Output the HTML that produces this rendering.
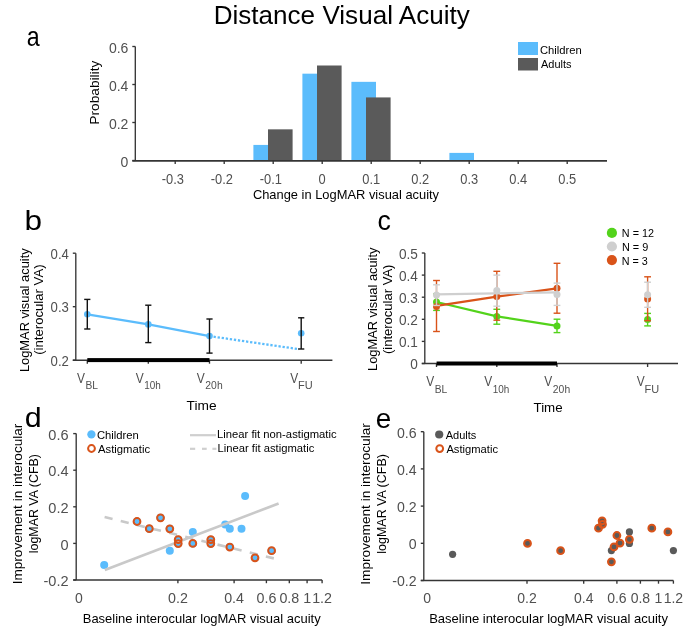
<!DOCTYPE html>
<html><head><meta charset="utf-8"><title>Distance Visual Acuity</title>
<style>html,body{margin:0;padding:0;background:#fff;width:685px;height:635px;overflow:hidden} svg{will-change:transform}</style>
</head><body>
<svg width="685" height="635" viewBox="0 0 685 635" style="display:block">
<g font-family='"Liberation Sans", sans-serif'>
<text x="213.67" y="23.65" font-size="25" textLength="256.12" lengthAdjust="spacingAndGlyphs" fill="#000">Distance Visual Acuity</text>
<text x="26.68" y="46.30" font-size="27.5" textLength="12.91" lengthAdjust="spacingAndGlyphs" fill="#000">a</text>
<text x="24.55" y="229.50" font-size="27.5" textLength="17.53" lengthAdjust="spacingAndGlyphs" fill="#000">b</text>
<text x="377.53" y="230.25" font-size="27.5" textLength="13.37" lengthAdjust="spacingAndGlyphs" fill="#000">c</text>
<text x="24.80" y="426.62" font-size="27.5" textLength="16.91" lengthAdjust="spacingAndGlyphs" fill="#000">d</text>
<text x="375.78" y="427.70" font-size="27.5" textLength="15.48" lengthAdjust="spacingAndGlyphs" fill="#000">e</text>
<rect x="253.40" y="144.92" width="24.6" height="15.88" fill="#5BBCFC"/>
<rect x="302.40" y="73.67" width="24.6" height="87.13" fill="#5BBCFC"/>
<rect x="351.40" y="81.84" width="24.6" height="78.96" fill="#5BBCFC"/>
<rect x="449.40" y="152.90" width="24.6" height="7.90" fill="#5BBCFC"/>
<rect x="268.00" y="129.34" width="24.6" height="31.46" fill="#5A5A5A"/>
<rect x="317.00" y="65.50" width="24.6" height="95.30" fill="#5A5A5A"/>
<rect x="366.00" y="97.42" width="24.6" height="63.38" fill="#5A5A5A"/>
<line x1="135.30" y1="46.50" x2="135.30" y2="160.50" stroke="#353535" stroke-width="1.35"/>
<line x1="132.30" y1="160.85" x2="607.00" y2="160.85" stroke="#353535" stroke-width="1.6"/>
<line x1="175.20" y1="160.80" x2="175.20" y2="163.90" stroke="#353535" stroke-width="1.35"/>
<line x1="224.20" y1="160.80" x2="224.20" y2="163.90" stroke="#353535" stroke-width="1.35"/>
<line x1="273.20" y1="160.80" x2="273.20" y2="163.90" stroke="#353535" stroke-width="1.35"/>
<line x1="322.20" y1="160.80" x2="322.20" y2="163.90" stroke="#353535" stroke-width="1.35"/>
<line x1="371.20" y1="160.80" x2="371.20" y2="163.90" stroke="#353535" stroke-width="1.35"/>
<line x1="420.20" y1="160.80" x2="420.20" y2="163.90" stroke="#353535" stroke-width="1.35"/>
<line x1="469.20" y1="160.80" x2="469.20" y2="163.90" stroke="#353535" stroke-width="1.35"/>
<line x1="518.20" y1="160.80" x2="518.20" y2="163.90" stroke="#353535" stroke-width="1.35"/>
<line x1="567.20" y1="160.80" x2="567.20" y2="163.90" stroke="#353535" stroke-width="1.35"/>
<text transform="translate(128.40 166.70) scale(1.0 1)" font-size="14" text-anchor="end" fill="#505050">0</text>
<line x1="132.30" y1="160.50" x2="135.30" y2="160.50" stroke="#353535" stroke-width="1.35"/>
<text transform="translate(128.40 128.70) scale(1.0 1)" font-size="14" text-anchor="end" fill="#505050">0.2</text>
<line x1="132.30" y1="122.50" x2="135.30" y2="122.50" stroke="#353535" stroke-width="1.35"/>
<text transform="translate(128.40 90.70) scale(1.0 1)" font-size="14" text-anchor="end" fill="#505050">0.4</text>
<line x1="132.30" y1="84.50" x2="135.30" y2="84.50" stroke="#353535" stroke-width="1.35"/>
<text transform="translate(128.40 52.70) scale(1.0 1)" font-size="14" text-anchor="end" fill="#505050">0.6</text>
<line x1="132.30" y1="46.50" x2="135.30" y2="46.50" stroke="#353535" stroke-width="1.35"/>
<text transform="translate(172.80 183.60) scale(0.92 1)" font-size="14" text-anchor="middle" fill="#505050">-0.3</text>
<text transform="translate(221.80 183.60) scale(0.92 1)" font-size="14" text-anchor="middle" fill="#505050">-0.2</text>
<text transform="translate(270.80 183.60) scale(0.92 1)" font-size="14" text-anchor="middle" fill="#505050">-0.1</text>
<text transform="translate(322.20 183.60) scale(0.92 1)" font-size="14" text-anchor="middle" fill="#505050">0</text>
<text transform="translate(371.20 183.60) scale(0.92 1)" font-size="14" text-anchor="middle" fill="#505050">0.1</text>
<text transform="translate(420.20 183.60) scale(0.92 1)" font-size="14" text-anchor="middle" fill="#505050">0.2</text>
<text transform="translate(469.20 183.60) scale(0.92 1)" font-size="14" text-anchor="middle" fill="#505050">0.3</text>
<text transform="translate(518.20 183.60) scale(0.92 1)" font-size="14" text-anchor="middle" fill="#505050">0.4</text>
<text transform="translate(567.20 183.60) scale(0.92 1)" font-size="14" text-anchor="middle" fill="#505050">0.5</text>
<text x="252.88" y="198.90" font-size="13.3" textLength="186.18" lengthAdjust="spacingAndGlyphs" fill="#000">Change in LogMAR visual acuity</text>
<text x="99.15" y="124.68" font-size="13.3" textLength="64.01" lengthAdjust="spacingAndGlyphs" transform="rotate(-90 99.15 124.68)" fill="#000">Probability</text>
<rect x="518" y="42" width="20" height="13" fill="#5BBCFC"/>
<rect x="518" y="58" width="20" height="12.5" fill="#5A5A5A"/>
<text x="539.90" y="53.50" font-size="10.9" textLength="41.88" lengthAdjust="spacingAndGlyphs" fill="#000">Children</text>
<text x="541.02" y="68.35" font-size="10.9" textLength="30.56" lengthAdjust="spacingAndGlyphs" fill="#000">Adults</text>
<line x1="75.80" y1="253.20" x2="75.80" y2="360.20" stroke="#353535" stroke-width="1.35"/>
<line x1="72.80" y1="360.20" x2="332.40" y2="360.20" stroke="#353535" stroke-width="1.35"/>
<line x1="87.30" y1="360.20" x2="87.30" y2="363.70" stroke="#353535" stroke-width="1.35"/>
<line x1="148.30" y1="360.20" x2="148.30" y2="363.70" stroke="#353535" stroke-width="1.35"/>
<line x1="209.50" y1="360.20" x2="209.50" y2="363.70" stroke="#353535" stroke-width="1.35"/>
<line x1="301.20" y1="360.20" x2="301.20" y2="363.70" stroke="#353535" stroke-width="1.35"/>
<rect x="87.3" y="358.1" width="122.2" height="4" fill="#000"/>
<text transform="translate(68.90 365.90) scale(0.94 1)" font-size="14" text-anchor="end" fill="#505050">0.2</text>
<line x1="72.80" y1="360.20" x2="75.80" y2="360.20" stroke="#353535" stroke-width="1.35"/>
<text transform="translate(68.90 312.40) scale(0.94 1)" font-size="14" text-anchor="end" fill="#505050">0.3</text>
<line x1="72.80" y1="306.70" x2="75.80" y2="306.70" stroke="#353535" stroke-width="1.35"/>
<text transform="translate(68.90 258.90) scale(0.94 1)" font-size="14" text-anchor="end" fill="#505050">0.4</text>
<line x1="72.80" y1="253.20" x2="75.80" y2="253.20" stroke="#353535" stroke-width="1.35"/>
<polyline points="87.3,314.3 148.3,324.4 209.5,336.1" fill="none" stroke="#5BBCFC" stroke-width="2.2"/>
<line x1="209.5" y1="336.1" x2="299" y2="349.2" stroke="#5BBCFC" stroke-width="2.3" stroke-dasharray="2.3 1.8"/>
<circle cx="87.3" cy="314.3" r="3.3" fill="#5BBCFC"/>
<circle cx="148.3" cy="324.4" r="3.3" fill="#5BBCFC"/>
<circle cx="209.5" cy="336.1" r="3.3" fill="#5BBCFC"/>
<circle cx="301.2" cy="333.3" r="3.3" fill="#5BBCFC"/>
<line x1="87.30" y1="299.40" x2="87.30" y2="329.00" stroke="#111" stroke-width="1.4"/>
<line x1="84.20" y1="299.40" x2="90.40" y2="299.40" stroke="#111" stroke-width="1.4"/>
<line x1="84.20" y1="329.00" x2="90.40" y2="329.00" stroke="#111" stroke-width="1.4"/>
<line x1="148.30" y1="305.20" x2="148.30" y2="342.60" stroke="#111" stroke-width="1.4"/>
<line x1="145.20" y1="305.20" x2="151.40" y2="305.20" stroke="#111" stroke-width="1.4"/>
<line x1="145.20" y1="342.60" x2="151.40" y2="342.60" stroke="#111" stroke-width="1.4"/>
<line x1="209.50" y1="319.00" x2="209.50" y2="353.10" stroke="#111" stroke-width="1.4"/>
<line x1="206.40" y1="319.00" x2="212.60" y2="319.00" stroke="#111" stroke-width="1.4"/>
<line x1="206.40" y1="353.10" x2="212.60" y2="353.10" stroke="#111" stroke-width="1.4"/>
<line x1="301.20" y1="317.80" x2="301.20" y2="349.00" stroke="#111" stroke-width="1.4"/>
<line x1="298.10" y1="317.80" x2="304.30" y2="317.80" stroke="#111" stroke-width="1.4"/>
<line x1="298.10" y1="349.00" x2="304.30" y2="349.00" stroke="#111" stroke-width="1.4"/>
<text x="77.10" y="382.57" font-size="14.6" textLength="7.97" lengthAdjust="spacingAndGlyphs" fill="#505050">V</text>
<text x="85.43" y="388.85" font-size="11.3" textLength="12.56" lengthAdjust="spacingAndGlyphs" fill="#505050">BL</text>
<text x="135.65" y="382.57" font-size="14.6" textLength="7.97" lengthAdjust="spacingAndGlyphs" fill="#505050">V</text>
<text x="144.18" y="388.85" font-size="11.3" textLength="16.60" lengthAdjust="spacingAndGlyphs" fill="#505050">10h</text>
<text x="196.85" y="382.57" font-size="14.6" textLength="7.97" lengthAdjust="spacingAndGlyphs" fill="#505050">V</text>
<text x="205.37" y="388.85" font-size="11.3" textLength="17.29" lengthAdjust="spacingAndGlyphs" fill="#505050">20h</text>
<text x="290.35" y="382.57" font-size="14.6" textLength="7.97" lengthAdjust="spacingAndGlyphs" fill="#505050">V</text>
<text x="298.12" y="388.85" font-size="11.3" textLength="14.66" lengthAdjust="spacingAndGlyphs" fill="#505050">FU</text>
<text x="28.80" y="372.10" font-size="13.3" textLength="123.78" lengthAdjust="spacingAndGlyphs" transform="rotate(-90 28.80 372.10)" fill="#000">LogMAR visual acuity</text>
<text x="43.30" y="354.82" font-size="13.3" textLength="90.36" lengthAdjust="spacingAndGlyphs" transform="rotate(-90 43.30 354.82)" fill="#000">(interocular VA)</text>
<text x="186.60" y="410.48" font-size="13.3" textLength="30.00" lengthAdjust="spacingAndGlyphs" fill="#000">Time</text>
<line x1="424.80" y1="253.00" x2="424.80" y2="363.50" stroke="#353535" stroke-width="1.35"/>
<line x1="421.80" y1="363.50" x2="678.00" y2="363.50" stroke="#353535" stroke-width="1.35"/>
<line x1="436.50" y1="363.50" x2="436.50" y2="367.00" stroke="#353535" stroke-width="1.35"/>
<line x1="496.80" y1="363.50" x2="496.80" y2="367.00" stroke="#353535" stroke-width="1.35"/>
<line x1="557.00" y1="363.50" x2="557.00" y2="367.00" stroke="#353535" stroke-width="1.35"/>
<line x1="647.60" y1="363.50" x2="647.60" y2="367.00" stroke="#353535" stroke-width="1.35"/>
<rect x="436.6" y="361.5" width="120.4" height="4" fill="#000"/>
<text transform="translate(417.95 369.10) scale(0.975 1)" font-size="14" text-anchor="end" fill="#505050">0</text>
<line x1="421.80" y1="363.50" x2="424.80" y2="363.50" stroke="#353535" stroke-width="1.35"/>
<text transform="translate(417.95 347.00) scale(0.975 1)" font-size="14" text-anchor="end" fill="#505050">0.1</text>
<line x1="421.80" y1="341.40" x2="424.80" y2="341.40" stroke="#353535" stroke-width="1.35"/>
<text transform="translate(417.95 324.90) scale(0.975 1)" font-size="14" text-anchor="end" fill="#505050">0.2</text>
<line x1="421.80" y1="319.30" x2="424.80" y2="319.30" stroke="#353535" stroke-width="1.35"/>
<text transform="translate(417.95 302.80) scale(0.975 1)" font-size="14" text-anchor="end" fill="#505050">0.3</text>
<line x1="421.80" y1="297.20" x2="424.80" y2="297.20" stroke="#353535" stroke-width="1.35"/>
<text transform="translate(417.95 280.70) scale(0.975 1)" font-size="14" text-anchor="end" fill="#505050">0.4</text>
<line x1="421.80" y1="275.10" x2="424.80" y2="275.10" stroke="#353535" stroke-width="1.35"/>
<text transform="translate(417.95 258.60) scale(0.975 1)" font-size="14" text-anchor="end" fill="#505050">0.5</text>
<line x1="421.80" y1="253.00" x2="424.80" y2="253.00" stroke="#353535" stroke-width="1.35"/>
<text x="426.30" y="386.27" font-size="14.6" textLength="7.97" lengthAdjust="spacingAndGlyphs" fill="#505050">V</text>
<text x="434.63" y="392.55" font-size="11.3" textLength="12.56" lengthAdjust="spacingAndGlyphs" fill="#505050">BL</text>
<text x="484.15" y="386.27" font-size="14.6" textLength="7.97" lengthAdjust="spacingAndGlyphs" fill="#505050">V</text>
<text x="492.68" y="392.55" font-size="11.3" textLength="16.60" lengthAdjust="spacingAndGlyphs" fill="#505050">10h</text>
<text x="544.35" y="386.27" font-size="14.6" textLength="7.97" lengthAdjust="spacingAndGlyphs" fill="#505050">V</text>
<text x="552.87" y="392.55" font-size="11.3" textLength="17.29" lengthAdjust="spacingAndGlyphs" fill="#505050">20h</text>
<text x="636.75" y="386.27" font-size="14.6" textLength="7.97" lengthAdjust="spacingAndGlyphs" fill="#505050">V</text>
<text x="644.52" y="392.55" font-size="11.3" textLength="14.66" lengthAdjust="spacingAndGlyphs" fill="#505050">FU</text>
<text x="377.30" y="370.92" font-size="13.3" textLength="123.32" lengthAdjust="spacingAndGlyphs" transform="rotate(-90 377.30 370.92)" fill="#000">LogMAR visual acuity</text>
<text x="391.90" y="354.08" font-size="13.3" textLength="89.55" lengthAdjust="spacingAndGlyphs" transform="rotate(-90 391.90 354.08)" fill="#000">(interocular VA)</text>
<text x="533.50" y="411.78" font-size="13.3" textLength="29.12" lengthAdjust="spacingAndGlyphs" fill="#000">Time</text>
<polyline points="436.5,302.0 496.8,316.4 557.0,325.9" fill="none" stroke="#53D31B" stroke-width="2.2"/>
<line x1="436.50" y1="294.00" x2="436.50" y2="310.40" stroke="#53D31B" stroke-width="1.4"/>
<line x1="433.10" y1="294.00" x2="439.90" y2="294.00" stroke="#53D31B" stroke-width="1.4"/>
<line x1="433.10" y1="310.40" x2="439.90" y2="310.40" stroke="#53D31B" stroke-width="1.4"/>
<line x1="496.80" y1="309.30" x2="496.80" y2="324.20" stroke="#53D31B" stroke-width="1.4"/>
<line x1="493.40" y1="309.30" x2="500.20" y2="309.30" stroke="#53D31B" stroke-width="1.4"/>
<line x1="493.40" y1="324.20" x2="500.20" y2="324.20" stroke="#53D31B" stroke-width="1.4"/>
<line x1="557.00" y1="319.20" x2="557.00" y2="332.60" stroke="#53D31B" stroke-width="1.4"/>
<line x1="553.60" y1="319.20" x2="560.40" y2="319.20" stroke="#53D31B" stroke-width="1.4"/>
<line x1="553.60" y1="332.60" x2="560.40" y2="332.60" stroke="#53D31B" stroke-width="1.4"/>
<line x1="647.60" y1="313.40" x2="647.60" y2="325.90" stroke="#53D31B" stroke-width="1.4"/>
<line x1="644.20" y1="313.40" x2="651.00" y2="313.40" stroke="#53D31B" stroke-width="1.4"/>
<line x1="644.20" y1="325.90" x2="651.00" y2="325.90" stroke="#53D31B" stroke-width="1.4"/>
<circle cx="436.5" cy="302.0" r="3.5" fill="#53D31B"/>
<circle cx="496.8" cy="316.4" r="3.5" fill="#53D31B"/>
<circle cx="557.0" cy="325.9" r="3.5" fill="#53D31B"/>
<circle cx="647.6" cy="319.4" r="3.5" fill="#53D31B"/>
<polyline points="436.5,305.8 496.8,296.6 557.0,288.4" fill="none" stroke="#D95319" stroke-width="2.2"/>
<line x1="436.50" y1="280.50" x2="436.50" y2="331.50" stroke="#D95319" stroke-width="1.4"/>
<line x1="433.10" y1="280.50" x2="439.90" y2="280.50" stroke="#D95319" stroke-width="1.4"/>
<line x1="433.10" y1="331.50" x2="439.90" y2="331.50" stroke="#D95319" stroke-width="1.4"/>
<line x1="496.80" y1="271.30" x2="496.80" y2="320.20" stroke="#D95319" stroke-width="1.4"/>
<line x1="493.40" y1="271.30" x2="500.20" y2="271.30" stroke="#D95319" stroke-width="1.4"/>
<line x1="493.40" y1="320.20" x2="500.20" y2="320.20" stroke="#D95319" stroke-width="1.4"/>
<line x1="557.00" y1="263.30" x2="557.00" y2="313.20" stroke="#D95319" stroke-width="1.4"/>
<line x1="553.60" y1="263.30" x2="560.40" y2="263.30" stroke="#D95319" stroke-width="1.4"/>
<line x1="553.60" y1="313.20" x2="560.40" y2="313.20" stroke="#D95319" stroke-width="1.4"/>
<line x1="647.60" y1="276.80" x2="647.60" y2="320.70" stroke="#D95319" stroke-width="1.4"/>
<line x1="644.20" y1="276.80" x2="651.00" y2="276.80" stroke="#D95319" stroke-width="1.4"/>
<line x1="644.20" y1="320.70" x2="651.00" y2="320.70" stroke="#D95319" stroke-width="1.4"/>
<circle cx="436.5" cy="306.4" r="3.5" fill="#D95319"/>
<circle cx="496.8" cy="296.6" r="3.5" fill="#D95319"/>
<circle cx="557.0" cy="288.2" r="3.5" fill="#D95319"/>
<circle cx="647.6" cy="299.0" r="3.5" fill="#D95319"/>
<polyline points="436.5,294.4 557.0,292.4" fill="none" stroke="#CFCFCF" stroke-width="2.2"/>
<line x1="436.50" y1="284.80" x2="436.50" y2="305.50" stroke="#CFCFCF" stroke-width="1.4"/>
<line x1="433.10" y1="284.80" x2="439.90" y2="284.80" stroke="#CFCFCF" stroke-width="1.4"/>
<line x1="433.10" y1="305.50" x2="439.90" y2="305.50" stroke="#CFCFCF" stroke-width="1.4"/>
<line x1="496.80" y1="275.10" x2="496.80" y2="306.20" stroke="#CFCFCF" stroke-width="1.4"/>
<line x1="493.40" y1="275.10" x2="500.20" y2="275.10" stroke="#CFCFCF" stroke-width="1.4"/>
<line x1="493.40" y1="306.20" x2="500.20" y2="306.20" stroke="#CFCFCF" stroke-width="1.4"/>
<line x1="557.00" y1="283.10" x2="557.00" y2="305.40" stroke="#CFCFCF" stroke-width="1.4"/>
<line x1="553.60" y1="283.10" x2="560.40" y2="283.10" stroke="#CFCFCF" stroke-width="1.4"/>
<line x1="553.60" y1="305.40" x2="560.40" y2="305.40" stroke="#CFCFCF" stroke-width="1.4"/>
<line x1="647.60" y1="282.20" x2="647.60" y2="307.30" stroke="#CFCFCF" stroke-width="1.4"/>
<line x1="644.20" y1="282.20" x2="651.00" y2="282.20" stroke="#CFCFCF" stroke-width="1.4"/>
<line x1="644.20" y1="307.30" x2="651.00" y2="307.30" stroke="#CFCFCF" stroke-width="1.4"/>
<circle cx="436.5" cy="295.0" r="3.5" fill="#CFCFCF"/>
<circle cx="496.8" cy="290.4" r="3.5" fill="#CFCFCF"/>
<circle cx="557.0" cy="294.4" r="3.5" fill="#CFCFCF"/>
<circle cx="647.6" cy="294.7" r="3.5" fill="#CFCFCF"/>
<circle cx="611.9" cy="232.9" r="5.1" fill="#53D31B"/>
<circle cx="611.9" cy="246.5" r="5.1" fill="#CFCFCF"/>
<circle cx="611.9" cy="260.1" r="5.1" fill="#D95319"/>
<text x="621.85" y="236.98" font-size="10.9" textLength="32.10" lengthAdjust="spacingAndGlyphs" fill="#000">N = 12</text>
<text x="621.92" y="250.77" font-size="10.9" textLength="26.28" lengthAdjust="spacingAndGlyphs" fill="#000">N = 9</text>
<text x="621.82" y="264.62" font-size="10.9" textLength="26.06" lengthAdjust="spacingAndGlyphs" fill="#000">N = 3</text>
<line x1="76.20" y1="433.60" x2="76.20" y2="580.00" stroke="#353535" stroke-width="1.35"/>
<line x1="73.20" y1="580.00" x2="322.10" y2="580.00" stroke="#353535" stroke-width="1.35"/>
<line x1="177.90" y1="580.00" x2="177.90" y2="583.20" stroke="#353535" stroke-width="1.35"/>
<line x1="234.10" y1="580.00" x2="234.10" y2="583.20" stroke="#353535" stroke-width="1.35"/>
<line x1="266.40" y1="580.00" x2="266.40" y2="583.20" stroke="#353535" stroke-width="1.35"/>
<line x1="289.30" y1="580.00" x2="289.30" y2="583.20" stroke="#353535" stroke-width="1.35"/>
<line x1="307.10" y1="580.00" x2="307.10" y2="583.20" stroke="#353535" stroke-width="1.35"/>
<line x1="322.10" y1="580.00" x2="322.10" y2="583.20" stroke="#353535" stroke-width="1.35"/>
<text transform="translate(68.60 586.10) scale(1.04 1)" font-size="14" text-anchor="end" fill="#505050">-0.2</text>
<line x1="73.20" y1="580.00" x2="76.20" y2="580.00" stroke="#353535" stroke-width="1.35"/>
<text transform="translate(68.60 549.50) scale(1.04 1)" font-size="14" text-anchor="end" fill="#505050">0</text>
<line x1="73.20" y1="543.40" x2="76.20" y2="543.40" stroke="#353535" stroke-width="1.35"/>
<text transform="translate(68.60 512.90) scale(1.04 1)" font-size="14" text-anchor="end" fill="#505050">0.2</text>
<line x1="73.20" y1="506.80" x2="76.20" y2="506.80" stroke="#353535" stroke-width="1.35"/>
<text transform="translate(68.60 476.30) scale(1.04 1)" font-size="14" text-anchor="end" fill="#505050">0.4</text>
<line x1="73.20" y1="470.20" x2="76.20" y2="470.20" stroke="#353535" stroke-width="1.35"/>
<text transform="translate(68.60 439.70) scale(1.04 1)" font-size="14" text-anchor="end" fill="#505050">0.6</text>
<line x1="73.20" y1="433.60" x2="76.20" y2="433.60" stroke="#353535" stroke-width="1.35"/>
<text x="78.85" y="603.10" font-size="14" text-anchor="middle" fill="#505050">0</text>
<text transform="translate(177.90 603.10) scale(1.02 1)" font-size="14" text-anchor="middle" fill="#505050">0.2</text>
<text transform="translate(234.10 603.10) scale(1.02 1)" font-size="14" text-anchor="middle" fill="#505050">0.4</text>
<text transform="translate(266.40 603.10) scale(1.02 1)" font-size="14" text-anchor="middle" fill="#505050">0.6</text>
<text transform="translate(289.30 603.10) scale(1.02 1)" font-size="14" text-anchor="middle" fill="#505050">0.8</text>
<text transform="translate(307.10 603.10) scale(1.02 1)" font-size="14" text-anchor="middle" fill="#505050">1</text>
<text transform="translate(322.10 603.10) scale(1.02 1)" font-size="14" text-anchor="middle" fill="#505050">1.2</text>
<text x="22.25" y="584.25" font-size="13.3" textLength="160.54" lengthAdjust="spacingAndGlyphs" transform="rotate(-90 22.25 584.25)" fill="#000">Improvement in interocular</text>
<text x="37.90" y="553.25" font-size="13.3" textLength="99.16" lengthAdjust="spacingAndGlyphs" transform="rotate(-90 37.90 553.25)" fill="#000">logMAR VA (CFB)</text>
<text x="82.75" y="622.90" font-size="13.3" textLength="237.88" lengthAdjust="spacingAndGlyphs" fill="#000">Baseline interocular logMAR visual acuity</text>
<circle cx="104.2" cy="565.1" r="4.0" fill="#5BBCFC"/>
<circle cx="169.8" cy="550.7" r="4.0" fill="#5BBCFC"/>
<circle cx="192.8" cy="532.1" r="4.0" fill="#5BBCFC"/>
<circle cx="225.2" cy="524.5" r="4.0" fill="#5BBCFC"/>
<circle cx="229.8" cy="528.8" r="4.0" fill="#5BBCFC"/>
<circle cx="241.5" cy="528.8" r="4.0" fill="#5BBCFC"/>
<circle cx="245.1" cy="496.0" r="4.0" fill="#5BBCFC"/>
<circle cx="137.0" cy="521.5" r="4.0" fill="#5BBCFC"/>
<circle cx="149.3" cy="528.7" r="4.0" fill="#5BBCFC"/>
<circle cx="160.5" cy="517.8" r="4.0" fill="#5BBCFC"/>
<circle cx="169.8" cy="528.8" r="4.0" fill="#5BBCFC"/>
<circle cx="178.2" cy="539.7" r="4.0" fill="#5BBCFC"/>
<circle cx="178.2" cy="543.6" r="4.0" fill="#5BBCFC"/>
<circle cx="192.8" cy="543.4" r="4.0" fill="#5BBCFC"/>
<circle cx="210.8" cy="539.7" r="4.0" fill="#5BBCFC"/>
<circle cx="210.8" cy="543.6" r="4.0" fill="#5BBCFC"/>
<circle cx="229.8" cy="547.1" r="4.0" fill="#5BBCFC"/>
<circle cx="255.0" cy="557.8" r="4.0" fill="#5BBCFC"/>
<circle cx="271.6" cy="550.7" r="4.0" fill="#5BBCFC"/>
<line x1="104.8" y1="570.0" x2="278.6" y2="503.5" stroke="#C9C9C9" stroke-width="2.7"/>
<line x1="104.6" y1="517.1" x2="276.0" y2="558.9" stroke="#C9C9C9" stroke-width="2.6" stroke-dasharray="8.2 8.4"/>
<circle cx="137.0" cy="521.5" r="3.4" fill="none" stroke="#D95319" stroke-width="2.0"/>
<circle cx="149.3" cy="528.7" r="3.4" fill="none" stroke="#D95319" stroke-width="2.0"/>
<circle cx="160.5" cy="517.8" r="3.4" fill="none" stroke="#D95319" stroke-width="2.0"/>
<circle cx="169.8" cy="528.8" r="3.4" fill="none" stroke="#D95319" stroke-width="2.0"/>
<circle cx="178.2" cy="539.7" r="3.4" fill="none" stroke="#D95319" stroke-width="2.0"/>
<circle cx="178.2" cy="543.6" r="3.4" fill="none" stroke="#D95319" stroke-width="2.0"/>
<circle cx="192.8" cy="543.4" r="3.4" fill="none" stroke="#D95319" stroke-width="2.0"/>
<circle cx="210.8" cy="539.7" r="3.4" fill="none" stroke="#D95319" stroke-width="2.0"/>
<circle cx="210.8" cy="543.6" r="3.4" fill="none" stroke="#D95319" stroke-width="2.0"/>
<circle cx="229.8" cy="547.1" r="3.4" fill="none" stroke="#D95319" stroke-width="2.0"/>
<circle cx="255.0" cy="557.8" r="3.4" fill="none" stroke="#D95319" stroke-width="2.0"/>
<circle cx="271.6" cy="550.7" r="3.4" fill="none" stroke="#D95319" stroke-width="2.0"/>
<circle cx="91.4" cy="434.4" r="4.15" fill="#5BBCFC"/>
<circle cx="91.5" cy="448.5" r="3.4" fill="none" stroke="#D95319" stroke-width="2.0"/>
<text x="96.90" y="438.65" font-size="10.9" textLength="41.88" lengthAdjust="spacingAndGlyphs" fill="#000">Children</text>
<text x="97.97" y="452.73" font-size="10.9" textLength="52.17" lengthAdjust="spacingAndGlyphs" fill="#000">Astigmatic</text>
<text x="217.05" y="438.42" font-size="10.9" textLength="119.50" lengthAdjust="spacingAndGlyphs" fill="#000">Linear fit non-astigmatic</text>
<text x="217.50" y="452.42" font-size="10.9" textLength="96.81" lengthAdjust="spacingAndGlyphs" fill="#000">Linear fit astigmatic</text>
<line x1="190.00" y1="435.20" x2="216.00" y2="435.20" stroke="#CFCFCF" stroke-width="2.2"/>
<line x1="190.00" y1="448.80" x2="195.20" y2="448.80" stroke="#CFCFCF" stroke-width="2.2"/>
<line x1="202.00" y1="448.80" x2="206.70" y2="448.80" stroke="#CFCFCF" stroke-width="2.2"/>
<line x1="212.40" y1="448.80" x2="216.40" y2="448.80" stroke="#CFCFCF" stroke-width="2.2"/>
<line x1="423.80" y1="431.70" x2="423.80" y2="580.50" stroke="#353535" stroke-width="1.35"/>
<line x1="420.80" y1="580.50" x2="673.40" y2="580.50" stroke="#353535" stroke-width="1.35"/>
<line x1="527.00" y1="580.50" x2="527.00" y2="583.70" stroke="#353535" stroke-width="1.35"/>
<line x1="583.70" y1="580.50" x2="583.70" y2="583.70" stroke="#353535" stroke-width="1.35"/>
<line x1="616.90" y1="580.50" x2="616.90" y2="583.70" stroke="#353535" stroke-width="1.35"/>
<line x1="640.40" y1="580.50" x2="640.40" y2="583.70" stroke="#353535" stroke-width="1.35"/>
<line x1="658.50" y1="580.50" x2="658.50" y2="583.70" stroke="#353535" stroke-width="1.35"/>
<line x1="673.40" y1="580.50" x2="673.40" y2="583.70" stroke="#353535" stroke-width="1.35"/>
<text transform="translate(416.60 586.30) scale(1.01 1)" font-size="14" text-anchor="end" fill="#505050">-0.2</text>
<line x1="420.80" y1="580.50" x2="423.80" y2="580.50" stroke="#353535" stroke-width="1.35"/>
<text transform="translate(416.60 549.10) scale(1.01 1)" font-size="14" text-anchor="end" fill="#505050">0</text>
<line x1="420.80" y1="543.30" x2="423.80" y2="543.30" stroke="#353535" stroke-width="1.35"/>
<text transform="translate(416.60 511.90) scale(1.01 1)" font-size="14" text-anchor="end" fill="#505050">0.2</text>
<line x1="420.80" y1="506.10" x2="423.80" y2="506.10" stroke="#353535" stroke-width="1.35"/>
<text transform="translate(416.60 474.70) scale(1.01 1)" font-size="14" text-anchor="end" fill="#505050">0.4</text>
<line x1="420.80" y1="468.90" x2="423.80" y2="468.90" stroke="#353535" stroke-width="1.35"/>
<text transform="translate(416.60 437.50) scale(1.01 1)" font-size="14" text-anchor="end" fill="#505050">0.6</text>
<line x1="420.80" y1="431.70" x2="423.80" y2="431.70" stroke="#353535" stroke-width="1.35"/>
<text x="427.2" y="603.20" font-size="14" text-anchor="middle" fill="#505050">0</text>
<text transform="translate(527.00 603.20) scale(1.0 1)" font-size="14" text-anchor="middle" fill="#505050">0.2</text>
<text transform="translate(583.70 603.20) scale(1.0 1)" font-size="14" text-anchor="middle" fill="#505050">0.4</text>
<text transform="translate(616.90 603.20) scale(1.0 1)" font-size="14" text-anchor="middle" fill="#505050">0.6</text>
<text transform="translate(640.40 603.20) scale(1.0 1)" font-size="14" text-anchor="middle" fill="#505050">0.8</text>
<text transform="translate(658.50 603.20) scale(1.0 1)" font-size="14" text-anchor="middle" fill="#505050">1</text>
<text transform="translate(673.40 603.20) scale(1.0 1)" font-size="14" text-anchor="middle" fill="#505050">1.2</text>
<text x="370.25" y="584.75" font-size="13.3" textLength="161.55" lengthAdjust="spacingAndGlyphs" transform="rotate(-90 370.25 584.75)" fill="#000">Improvement in interocular</text>
<text x="385.90" y="553.75" font-size="13.3" textLength="99.67" lengthAdjust="spacingAndGlyphs" transform="rotate(-90 385.90 553.75)" fill="#000">logMAR VA (CFB)</text>
<text x="429.20" y="622.90" font-size="13.3" textLength="238.78" lengthAdjust="spacingAndGlyphs" fill="#000">Baseline interocular logMAR visual acuity</text>
<circle cx="452.6" cy="554.3" r="3.6" fill="#5A5A5A"/>
<circle cx="629.4" cy="531.9" r="3.6" fill="#5A5A5A"/>
<circle cx="629.4" cy="543.4" r="3.6" fill="#5A5A5A"/>
<circle cx="611.4" cy="550.6" r="3.6" fill="#5A5A5A"/>
<circle cx="673.4" cy="550.6" r="3.6" fill="#5A5A5A"/>
<circle cx="527.5" cy="543.4" r="3.6" fill="#5A5A5A"/>
<circle cx="560.6" cy="550.7" r="3.6" fill="#5A5A5A"/>
<circle cx="602.1" cy="520.8" r="3.6" fill="#5A5A5A"/>
<circle cx="602.5" cy="524.3" r="3.6" fill="#5A5A5A"/>
<circle cx="598.5" cy="528.2" r="3.6" fill="#5A5A5A"/>
<circle cx="616.9" cy="535.5" r="3.6" fill="#5A5A5A"/>
<circle cx="620.0" cy="543.1" r="3.6" fill="#5A5A5A"/>
<circle cx="614.0" cy="546.9" r="3.6" fill="#5A5A5A"/>
<circle cx="611.4" cy="561.8" r="3.6" fill="#5A5A5A"/>
<circle cx="629.4" cy="539.4" r="3.6" fill="#5A5A5A"/>
<circle cx="651.8" cy="528.2" r="3.6" fill="#5A5A5A"/>
<circle cx="667.9" cy="531.9" r="3.6" fill="#5A5A5A"/>
<circle cx="527.5" cy="543.4" r="3.4" fill="none" stroke="#D95319" stroke-width="2.0"/>
<circle cx="560.6" cy="550.7" r="3.4" fill="none" stroke="#D95319" stroke-width="2.0"/>
<circle cx="602.1" cy="520.8" r="3.4" fill="none" stroke="#D95319" stroke-width="2.0"/>
<circle cx="602.5" cy="524.3" r="3.4" fill="none" stroke="#D95319" stroke-width="2.0"/>
<circle cx="598.5" cy="528.2" r="3.4" fill="none" stroke="#D95319" stroke-width="2.0"/>
<circle cx="616.9" cy="535.5" r="3.4" fill="none" stroke="#D95319" stroke-width="2.0"/>
<circle cx="620.0" cy="543.1" r="3.4" fill="none" stroke="#D95319" stroke-width="2.0"/>
<circle cx="614.0" cy="546.9" r="3.4" fill="none" stroke="#D95319" stroke-width="2.0"/>
<circle cx="611.4" cy="561.8" r="3.4" fill="none" stroke="#D95319" stroke-width="2.0"/>
<circle cx="629.4" cy="539.4" r="3.4" fill="none" stroke="#D95319" stroke-width="2.0"/>
<circle cx="651.8" cy="528.2" r="3.4" fill="none" stroke="#D95319" stroke-width="2.0"/>
<circle cx="667.9" cy="531.9" r="3.4" fill="none" stroke="#D95319" stroke-width="2.0"/>
<circle cx="439.2" cy="434.5" r="4.1" fill="#5A5A5A"/>
<circle cx="439.7" cy="448.6" r="3.4" fill="none" stroke="#D95319" stroke-width="2.0"/>
<text x="445.75" y="438.65" font-size="10.9" textLength="30.61" lengthAdjust="spacingAndGlyphs" fill="#000">Adults</text>
<text x="446.40" y="452.98" font-size="10.9" textLength="51.62" lengthAdjust="spacingAndGlyphs" fill="#000">Astigmatic</text>
</g></svg>
</body></html>
